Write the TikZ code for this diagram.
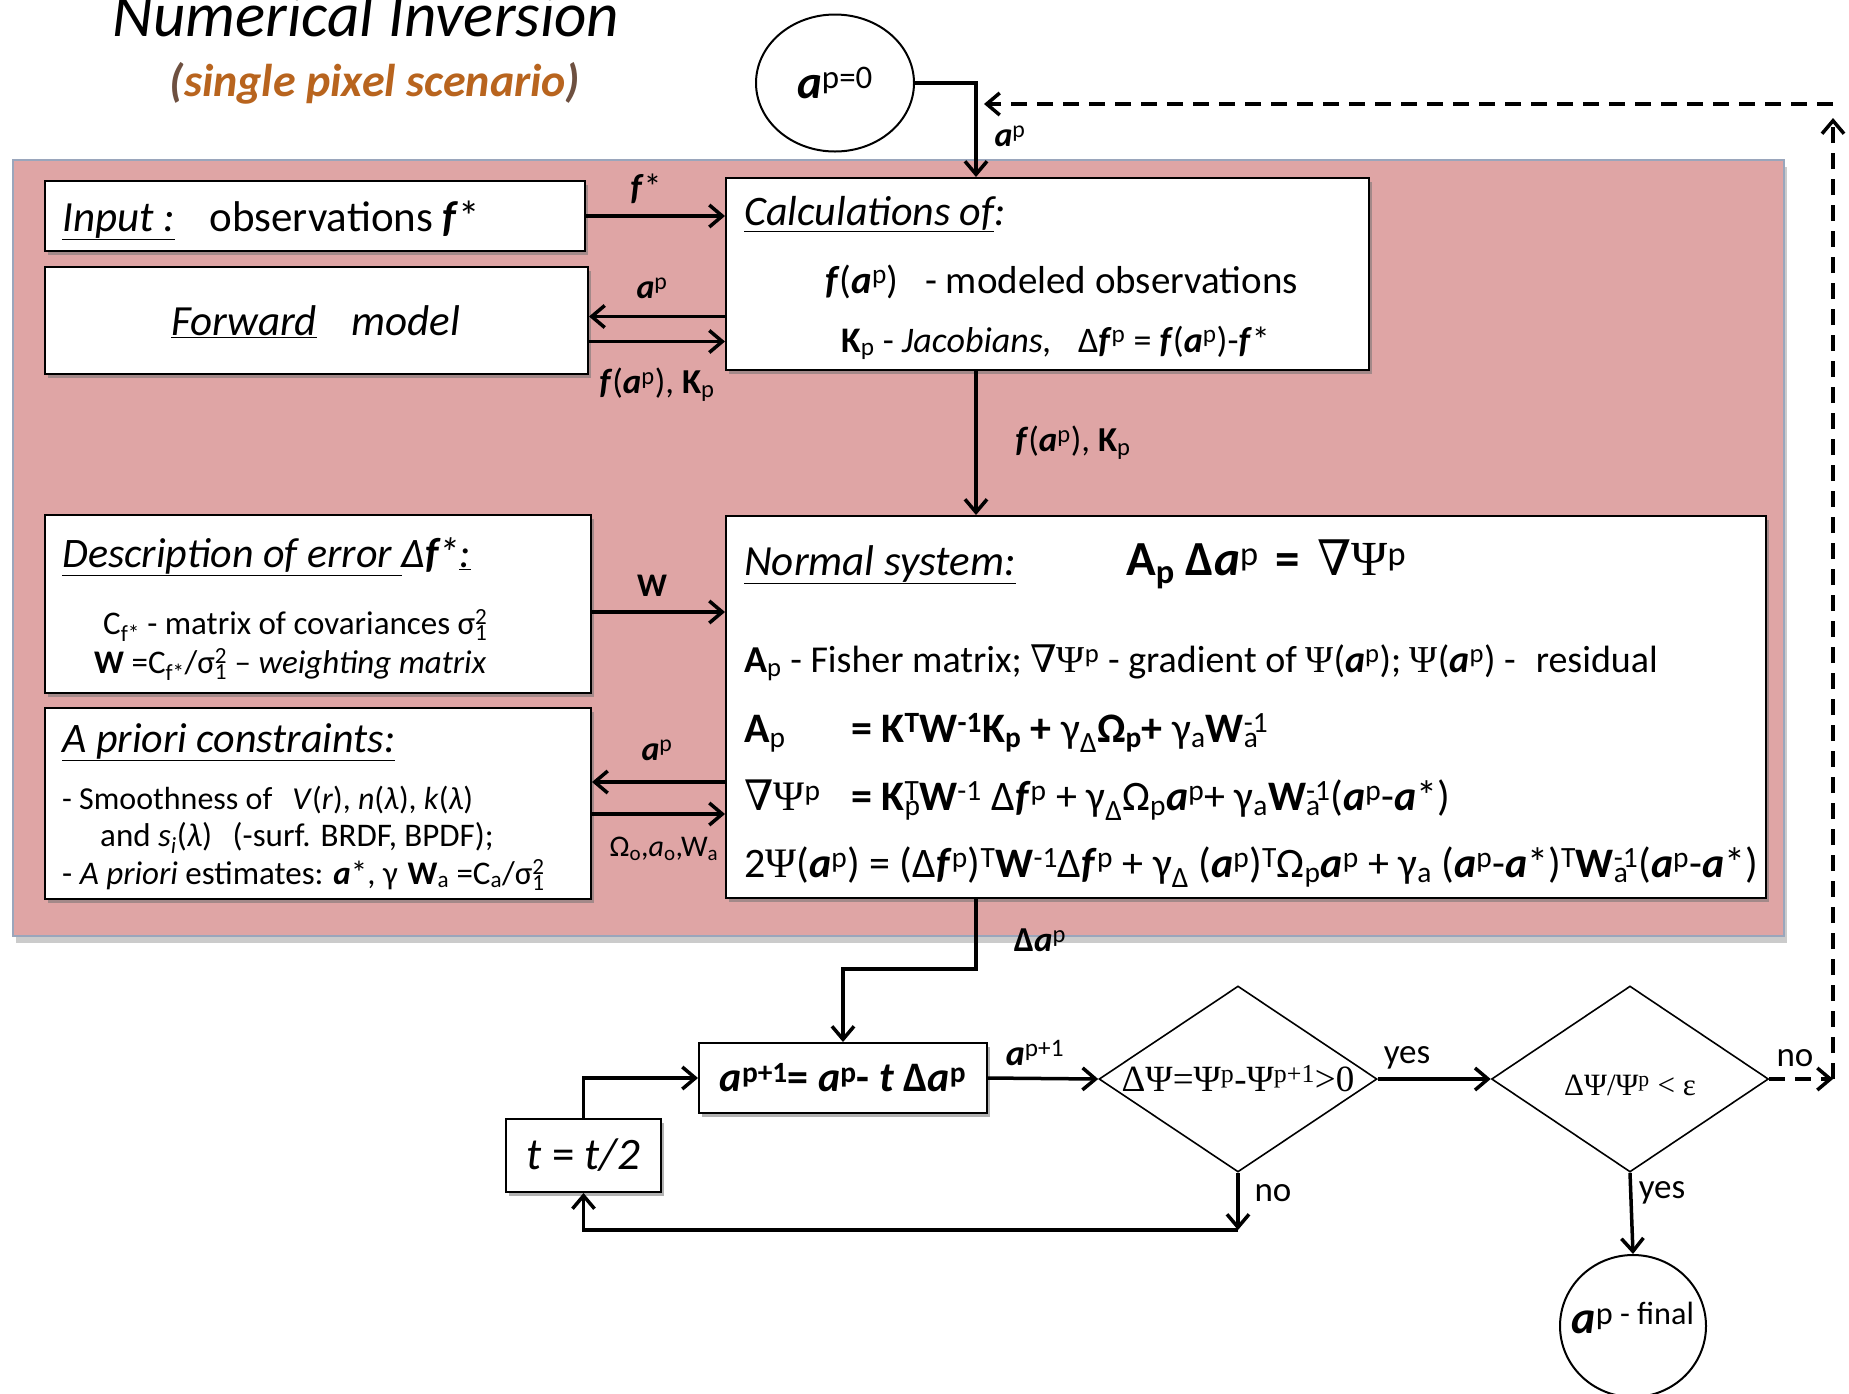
\documentclass[tikz,border=0pt]{standalone}
\usepackage{fontspec}
\setmainfont{Carlito}
\newfontfamily\serf{Liberation Serif}
\newfontfamily\nabf{DejaVu Serif}
\usetikzlibrary{arrows.meta,shapes.geometric,shadows,calc}
\newcommand\sps[1]{\textsuperscript{#1}}
\newcommand\sbs[1]{\textsubscript{#1}}
\newcommand\ssp[2]{\rlap{\textsubscript{#1}}\textsuperscript{#2}}
\newcommand\va{\textbf{\textit{a}}}
\newcommand\vf{\textbf{\textit{f}}}
\newcommand\Psy{{\serf Ψ}}
\newcommand\nab{{\nabf ∇}}
\newcommand\fs[1]{\fontsize{#1}{#1}\selectfont}
\definecolor{pinkbg}{HTML}{DFA5A5}
\definecolor{pinkedge}{HTML}{9AA6BC}
\definecolor{subt}{HTML}{B8641E}
\definecolor{parc}{HTML}{6E5040}
\begin{document}
\begin{tikzpicture}[x=1pt,y=-1pt,
  box/.style={draw=black, line width=2pt, fill=white, inner sep=0pt,
    drop shadow={shadow xshift=3pt, shadow yshift=-4pt, fill=black!55, opacity=0.55}},
  bgbox/.style={draw=pinkedge, line width=2pt, fill=pinkbg, inner sep=0pt,
    drop shadow={shadow xshift=3pt, shadow yshift=-7pt, fill=black!45, opacity=0.45}},
  txt/.style={anchor=base west, inner sep=0pt},
  lbl/.style={inner sep=0pt},
  arr/.style={line width=3.5pt, -{Straight Barb[length=13pt,width=22pt]}},
  darr/.style={line width=3.5pt, dash pattern=on 16pt off 10pt, -{Straight Barb[length=13pt,width=22pt]}},
  dia/.style={draw=black, line width=1.6pt, shape=diamond, inner sep=0pt, aspect=1.5},
  circ/.style={draw=black, line width=2pt, shape=ellipse, fill=white, inner sep=0pt}
]
\useasboundingbox (0,0) rectangle (1849,1393);

% title
\node[anchor=base, inner sep=0pt, font=\fs{63}\itshape] (title) at (366,36) {Numerical Inversion};
\node[anchor=base, inner sep=0pt, font=\fs{46}\bfseries\itshape, text=subt] (subtitle) at (375,96)
  {{\color{parc}(}single pixel scenario{\color{parc})}};

% background
\node[bgbox, minimum width=1771pt, minimum height=776pt, anchor=north west] (bg) at (12,159) {};

% boxes
\node[box, minimum width=540pt, minimum height=70pt, anchor=north west] (input) at (44,180) {};
\node[box, minimum width=543pt, minimum height=107pt, anchor=north west] (fwd) at (44,266) {};
\node[box, minimum width=643pt, minimum height=192pt, anchor=north west] (calc) at (725,177) {};
\node[box, minimum width=546pt, minimum height=178pt, anchor=north west] (desc) at (44,514) {};
\node[box, minimum width=546pt, minimum height=191pt, anchor=north west] (apri) at (44,707) {};
\node[box, minimum width=1040pt, minimum height=382pt, anchor=north west] (norm) at (725,515) {};
\node[box, minimum width=288pt, minimum height=70pt, anchor=north west] (upd) at (698,1042) {};
\node[box, minimum width=155pt, minimum height=73pt, anchor=north west] (thalf) at (505,1118) {};
\node[dia, minimum width=278pt, minimum height=186pt] (d1) at (1238,1079) {};
\node[dia, minimum width=277pt, minimum height=186pt] (d2) at (1630,1079) {};
\node[circ, minimum width=158pt, minimum height=137pt] (start) at (835,83) {};
\node[circ, minimum width=146pt, minimum height=142pt] (final) at (1633,1326) {};

% coordinates
\coordinate (topx) at (976,104);
\coordinate (bend) at (976,969);
\coordinate (nobend) at (1238,1230);
\coordinate (noR) at (1833,1079);
\coordinate (topR) at (1833,104);
\coordinate (fa1) at ($(fwd.east)+(0,-4)$);
\coordinate (fa2) at ($(fwd.east)+(0,21)$);
\coordinate (wy) at (590,612);
\coordinate (ap1) at (590,782);
\coordinate (ap2) at (590,814);

% texts in boxes
\node[txt, font=\fs{43}] (tin) at (62,231) {\underline{\textit{Input :}}\hspace{0.8em}observations \vf*};
\node[txt, font=\fs{43}\itshape] (tfw) at (171,335) {\underline{Forward}\hspace{0.8em}model};

\node[txt, font=\fs{42}\itshape] (tc1) at (744,225) {\underline{Calculations of}:};
\node[txt, font=\fs{39}] (tc2) at (825,293) {\vf(\va\sps{p})\hspace{0.45em} - modeled observations};
\node[txt, font=\fs{36}] (tc3) at (841,352) {\textbf{K}\sbs{p} - \textit{Jacobians,}\hspace{0.5em} Δ\vf\sps{p} = \vf(\va\sps{p})-\vf*};

\node[txt, font=\fs{43}\itshape] (tn1) at (744,575) {\underline{Normal system:}};
\node[txt, font=\fs{49}] (tn2) at (1126,575) {\textbf{A}\sbs{\textbf{p}} \textbf{Δ\textit{a}}\sps{p}\hspace{0.35em}\textbf{=}\hspace{0.35em}\nab\Psy\sps{p}};
\node[txt, font=\fs{38}] (tn3) at (744,672) {\textbf{A}\sbs{p} - Fisher matrix; \nab\Psy\sps{p} - gradient of \Psy(\va\sps{p}); \Psy(\va\sps{p}) -\hspace{0.3em} residual};
\node[txt, font=\fs{42}] (tn4a) at (744,742) {\textbf{A}\sbs{p}};
\node[txt, font=\fs{42}] (tn4b) at (851,742) {\textbf{= K\sps{T}W\sps{-1}K\sbs{p} + }γ\sbs{Δ}\textbf{Ω\sbs{p}+ }γ\sbs{a}\textbf{W}\ssp{a}{-1}};
\node[txt, font=\fs{42}] (tn5a) at (744,810) {\nab\Psy\sps{p}};
\node[txt, font=\fs{42}] (tn5b) at (851,810) {\textbf{= K}\ssp{p}{T}\textbf{W}\sps{-1} Δ\vf\sps{p} + γ\sbs{Δ}Ω\sbs{p}\va\sps{p}+ γ\sbs{a}\textbf{W}\ssp{a}{-1}(\va\sps{p}-\va*)};
\node[txt, font=\fs{42}] (tn6) at (744,877) {2\Psy(\va\sps{p}) = (Δ\vf\sps{p})\sps{T}\textbf{W}\sps{-1}Δ\vf\sps{p} + γ\sbs{Δ} (\va\sps{p})\sps{T}Ω\sbs{p}\va\sps{p} + γ\sbs{a} (\va\sps{p}-\va*)\sps{T}\textbf{W}\ssp{a}{-1}(\va\sps{p}-\va*)};

\node[txt, font=\fs{42}\itshape] (td1) at (62,567) {\underline{Description of error }Δ\vf*\underline{:}};
\node[txt, font=\fs{33}] (td2) at (103,634) {C\sbs{f*} - matrix of covariances σ\ssp{1}{2}};
\node[txt, font=\fs{33}] (td3) at (94,673) {\textbf{W} =C\sbs{f*}/σ\ssp{1}{2} – \textit{weighting matrix}};

\node[txt, font=\fs{42}\itshape] (ta1) at (62,752) {\underline{A priori constraints:}};
\node[txt, font=\fs{32}] (ta2) at (62,809) {- Smoothness of\hspace{0.4em} \textit{V}(\textit{r}), \textit{n}(\textit{λ}), \textit{k}(\textit{λ})};
\node[txt, font=\fs{33}] (ta3) at (100,846) {and \textit{s}\sbs{\textit{i}}(\textit{λ})\hspace{0.4em} (-surf. BRDF, BPDF);};
\node[txt, font=\fs{33}] (ta4) at (62,884) {- \textit{A priori} estimates: \va*, γ\hspace{0.3em}\textbf{W}\sbs{a} =C\sbs{a}/σ\ssp{1}{2}};

\node[lbl, font=\fs{42}\bfseries] (tupd) at (upd.center) {\va\sps{p+1}= \va\sps{p}- \textit{t} Δ\va\sps{p}};
\node[lbl, font=\fs{45}] (tth) at (thalf.center) {\textit{t} = \textit{t/2}};
\node[lbl, font=\fs{37}\serf] (td1t) at (d1.center) {ΔΨ=Ψ\sps{p}-Ψ\sps{p+1}>0};
\node[lbl, font=\fs{31}\serf] (td2t) at ($(d2.center)+(0,6)$) {ΔΨ/Ψ\sps{p} < ε};
\node[lbl, font=\fs{47}] (tstart) at (start.center) {\va\sps{p=0}};
\node[lbl, font=\fs{46}] (tfinal) at ($(final.center)+(0,-8)$) {\va\sps{p - final}};

% connectors
\draw[arr] (start.east) -| (calc.north -| topx);
\draw[darr] (d2.east) -- (noR);
\draw[darr] (noR) -- ($(topR)+(0,14)$);
\draw[darr] (topR) -- ($(calc.north -| topx)+(8,-73)$);
\draw[arr] (input.east) -- (calc.west |- input.east);
\draw[arr] (calc.west |- fa1) -- (fa1);
\draw[arr] (fa2) -- (calc.west |- fa2);
\draw[arr] (calc.south -| topx) -- (norm.north -| topx);
\draw[arr] (desc.east |- wy) -- (norm.west |- wy);
\draw[arr] (norm.west |- ap1) -- (apri.east |- ap1);
\draw[arr] (apri.east |- ap2) -- (norm.west |- ap2);
\draw[arr] (norm.south -| bend) -- (bend) -| (upd.north);
\draw[arr] (thalf.north) |- (upd.west);
\draw[arr] (upd.east) -- (d1.west);
\draw[arr] (d1.east) -- (d2.west);
\draw[arr] (d1.south) -- (nobend);
\draw[arr] (nobend) -| (thalf.south);
\draw[arr] (d2.south) -- (final.north);

% connector labels
\node[lbl, font=\fs{34}] (lap0) at (1010,136) {\va\sps{p}};
\node[lbl, font=\fs{36}] (lfs) at (646,189) {\vf*};
\node[lbl, font=\fs{34}] (lap1) at (652,288) {\va\sps{p}};
\node[lbl, font=\fs{35}] (lfk1) at (657,385) {\vf(\va\sps{p}), \textbf{K}\sbs{p}};
\node[lbl, font=\fs{35}] (lfk2) at (1073,443) {\vf(\va\sps{p}), \textbf{K}\sbs{p}};
\node[lbl, font=\fs{33}\bfseries] (lw) at (652,586) {W};
\node[lbl, font=\fs{34}] (lap2) at (657,750) {\va\sps{p}};
\node[lbl, font=\fs{30}] (lom) at (664,849) {Ω\sbs{o},\textit{a}\sbs{o},W\sbs{a}};
\node[lbl, font=\fs{35}] (lda) at (1040,940) {\textbf{Δ}\va\sps{p}};
\node[lbl, font=\fs{36}] (lap3) at (1035,1053) {\va\sps{p+1}};
\node[lbl, font=\fs{35}] (lyes1) at (1407,1058) {yes};
\node[lbl, font=\fs{35}] (lno1) at (1795,1058) {no};
\node[lbl, font=\fs{35}] (lno2) at (1273,1193) {no};
\node[lbl, font=\fs{35}] (lyes2) at (1662,1193) {yes};
\end{tikzpicture}
\end{document}
